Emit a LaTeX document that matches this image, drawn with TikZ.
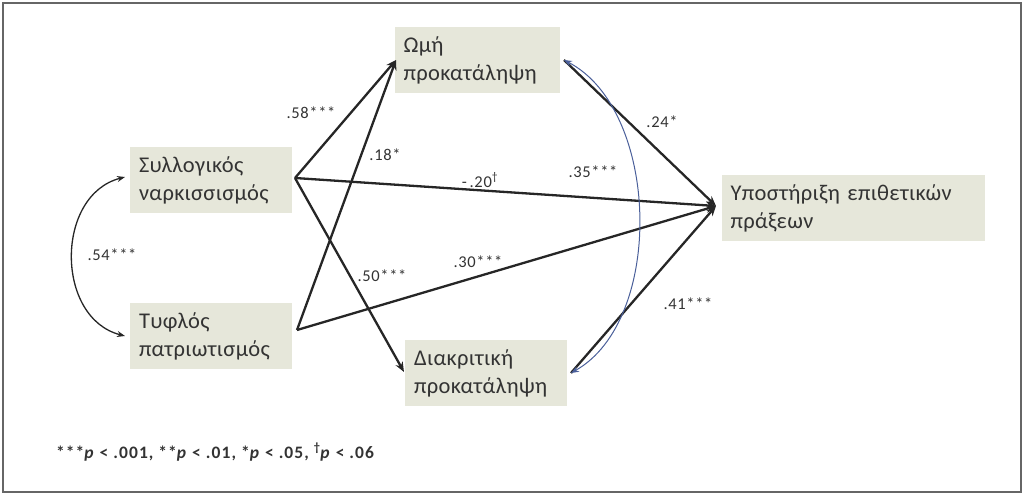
\documentclass[tikz,border=0pt]{standalone}
\usepackage{fontspec}
\setmainfont{Carlito}
\usetikzlibrary{arrows.meta}
\definecolor{boxfill}{HTML}{E6E7DA}
\definecolor{txt}{HTML}{333333}
\definecolor{curveblue}{HTML}{4A5F9A}
\tikzset{
  x=1pt, y=-1pt,
  vbox/.style={fill=boxfill, draw=none, minimum height=66pt, text width=#1, align=left, inner xsep=9pt, inner ysep=4pt, text=txt, font=\fontsize{22.5}{28}\selectfont\addfontfeature{LetterSpace=1.5}},
  path/.style={draw=black!85, line width=2.3pt, -{Stealth[length=10pt,width=8pt]}},
  lbl/.style={text=txt, font=\fontsize{16.5}{18}\selectfont\addfontfeature{LetterSpace=4}, inner sep=1pt},
}
\begin{document}
\begin{tikzpicture}
\useasboundingbox (0,0) rectangle (1024,495);
\draw[black!60, line width=1.5pt] (3,3) rectangle (1021,492);

\node[vbox=147pt] (om) at (477,60) {Ωμή\\προκατάληψη};
\node[vbox=144pt] (sy) at (211,180) {Συλλογικός\\ναρκισσισμός};
\node[vbox=144pt] (ty) at (211,336) {Τυφλός\\πατριωτισμός};
\node[vbox=144pt] (di) at (486,373) {Διακριτική\\προκατάληψη};
\node[vbox=245pt] (yp) at (853,208) {Υποστήριξη επιθετικών\\πράξεων};

\coordinate (syO) at (295,178);
\coordinate (tyO) at (297,330);
\coordinate (omI) at (396,60);
\coordinate (diI) at (404,372);
\coordinate (ypI) at (716,206);
\coordinate (omO) at (564,60);
\coordinate (diO) at (571,373);

\draw[path] (syO) -- (omI);
\draw[path] (tyO) -- (omI);
\draw[path] (syO) -- (diI);
\draw[path] (syO) -- (ypI);
\draw[path] (tyO) -- (ypI);
\draw[path] (omO) -- (ypI);
\draw[path] (diO) -- (ypI);

\draw[curveblue, line width=1pt, {Stealth[length=8pt,width=6pt]}-{Stealth[length=8pt,width=6pt]}]
  (omO) .. controls (660,110) and (665,320) .. (diO);
\draw[black!85, line width=1.3pt, {Stealth[length=8pt,width=6pt]}-{Stealth[length=8pt,width=6pt]}]
  (125,177) .. controls (55,195) and (55,318) .. (125,336);

\node[lbl] (l58) at (311,113) {.58***};
\node[lbl] (l18) at (385,155) {.18*};
\node[lbl] (l20) at (480,180) {-\,.20\textsuperscript{\textdagger}};
\node[lbl] (l35) at (593,172) {.35***};
\node[lbl] (l30) at (478,262) {.30***};
\node[lbl] (l50) at (382,276) {.50***};
\node[lbl] (l24) at (662,122) {.24*};
\node[lbl] (l41) at (688,304) {.41***};
\node[lbl] (l54) at (112,255) {.54***};
\node[lbl, anchor=west, font=\bfseries\fontsize{17.5}{19}\selectfont\addfontfeature{LetterSpace=6}] (fn) at (55,452) {***\textit{p} < .001, **\textit{p} < .01, *\textit{p} < .05, \textsuperscript{\textdagger}\textit{p} < .06};
\end{tikzpicture}
\end{document}
